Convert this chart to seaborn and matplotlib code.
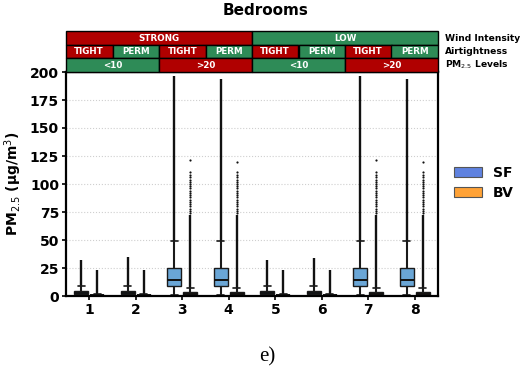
import matplotlib
matplotlib.use("Agg")
import matplotlib.pyplot as plt
from matplotlib.patches import Rectangle, Patch
import matplotlib.transforms as mtransforms
import numpy as np
import pandas as pd
import seaborn as sns

# ---- data -------------------------------------------------------------
scenarios = ["1", "2", "3", "4", "5", "6", "7", "8"]
sensors = ["SF", "BV"]

# five-number summaries per scenario: lower whisker, Q1, median, Q3, upper whisker
sf_whislo = [0.3, 0.3, 0.5, 0.5, 0.3, 0.3, 0.5, 0.5]
sf_q1 = [1.8, 1.8, 8.8, 8.8, 1.8, 1.8, 8.8, 8.8]
sf_med = [3.0, 3.0, 14.3, 14.3, 3.0, 3.0, 14.3, 14.3]
sf_q3 = [4.6, 4.6, 25.3, 25.3, 4.6, 4.6, 25.3, 25.3]
sf_whishi = [8.5, 8.5, 49.0, 49.0, 8.5, 8.5, 49.0, 49.0]

bv_whislo = [0.0, 0.0, 0.0, 0.0, 0.0, 0.0, 0.0, 0.0]
bv_q1 = [0.2, 0.2, 0.5, 0.5, 0.2, 0.2, 0.5, 0.5]
bv_med = [0.5, 0.5, 1.5, 1.5, 0.5, 0.5, 1.5, 1.5]
bv_q3 = [1.0, 1.0, 3.8, 3.8, 1.0, 1.0, 3.8, 3.8]
bv_whishi = [2.0, 2.0, 7.0, 7.0, 2.0, 2.0, 7.0, 7.0]

# outliers: densely packed run above the upper whisker, up to this value
sf_dense_top = [32, 35, 196, 194, 32, 34, 196, 194]
bv_dense_top = [23, 23, 72, 72, 23, 23, 72, 72]
# sparser individual outliers above the dense run (BV, high-PM scenarios)
bv_sparse = [
    [], [],
    [74, 76, 78, 80, 82, 84, 86, 88, 90, 92, 94, 96, 98, 100, 102, 104, 106, 108, 111, 121],
    [74, 76, 78, 80, 82, 84, 86, 88, 90, 92, 94, 96, 98, 100, 102, 104, 106, 108, 111, 120],
    [], [],
    [74, 76, 78, 80, 82, 84, 86, 88, 90, 92, 94, 96, 98, 100, 102, 104, 106, 108, 111, 121],
    [74, 76, 78, 80, 82, 84, 86, 88, 90, 92, 94, 96, 98, 100, 102, 104, 106, 108, 111, 120],
]

wind_levels = ["STRONG", "LOW"]
airtightness = ["TIGHT", "PERM", "TIGHT", "PERM", "TIGHT", "PERM", "TIGHT", "PERM"]
pm_levels = ["<10", ">20", "<10", ">20"]
row_titles = ["Wind Intensity", "Airtightness", "PM$_{2.5}$ Levels"]

yticks = [0, 25, 50, 75, 100, 125, 150, 175, 200]

# ---- long-form table built from the summaries --------------------------
rows = []
for i, sc in enumerate(scenarios):
    for v in (sf_whislo[i], sf_q1[i], sf_med[i], sf_q3[i], sf_whishi[i]):
        rows.append((sc, "SF", v))
    for v in (bv_whislo[i], bv_q1[i], bv_med[i], bv_q3[i], bv_whishi[i]):
        rows.append((sc, "BV", v))
df = pd.DataFrame(rows, columns=["scenario", "sensor", "value"])

# ---- styling ----------------------------------------------------------
sns.set_style("white")
plt.rcParams["font.family"] = ["DejaVu Sans"]
plt.rcParams.update({"text.color": "black", "axes.labelcolor": "black",
                     "xtick.color": "black", "ytick.color": "black"})

RED = "#b00000"
GREEN = "#2e8b57"
SF_BOX = "#6aa6d6"
BV_BOX = "#c8782e"
SF_LEG = "#5f82e0"
BV_LEG = "#ffa236"

fig = plt.figure(figsize=(5.24, 3.73), dpi=100)
ax = fig.add_axes([66 / 524, 77 / 373, 372 / 524, 224 / 373])

sns.boxplot(
    data=df, x="scenario", y="value", hue="sensor", order=scenarios,
    hue_order=sensors, palette={"SF": SF_BOX, "BV": BV_BOX}, saturation=1,
    whis=(0, 100), width=0.7, gap=0.14, linewidth=1.0, linecolor="#1a1a1a",
    showfliers=False, legend=False, ax=ax,
    medianprops={"color": "#111111", "linewidth": 1.4},
    whiskerprops={"linewidth": 1.5},
    capprops={"linewidth": 1.2},
)

# outliers drawn as dense vertical runs plus individual points
off = 0.175
for i in range(len(scenarios)):
    ax.vlines(i - off, sf_whishi[i], sf_dense_top[i], color="#111111", lw=1.7, zorder=1)
    ax.vlines(i + off, bv_whishi[i], bv_dense_top[i], color="#111111", lw=1.7, zorder=1)
    if bv_sparse[i]:
        ax.scatter([i + off] * len(bv_sparse[i]), bv_sparse[i], s=2.5,
                   color="#111111", linewidths=0, zorder=1)

ax.set_xlim(-0.5, 7.5)
ax.set_ylim(0, 200)
ax.set_yticks(yticks)
ax.yaxis.grid(True, ls=":", color="#cfcfcf", lw=0.8)
ax.set_axisbelow(True)
ax.set_xlabel("")
ax.set_ylabel("PM$_{2.5}$ (µg/m$^3$)", fontsize=10, fontweight="bold", labelpad=4)
ax.tick_params(axis="both", which="both", length=3, width=1.2, color="black",
               labelcolor="black", labelsize=10, pad=2, direction="out",
               bottom=True, left=True)
for lab in ax.get_xticklabels() + ax.get_yticklabels():
    lab.set_fontweight("bold")
for sp in ax.spines.values():
    sp.set_visible(True)
    sp.set_color("black")
    sp.set_linewidth(1.6)

# ---- header table above the axes ---------------------------------------
trans = mtransforms.blended_transform_factory(ax.transData, ax.transAxes)
h = 0.0605


def cell(x0, x1, row, color, text):
    y0 = 1 + row * h
    ax.add_patch(Rectangle((x0, y0), x1 - x0, h, transform=trans, facecolor=color,
                           edgecolor="black", lw=1.0, clip_on=False, zorder=5))
    ax.text((x0 + x1) / 2, y0 + h / 2, text, transform=trans, ha="center",
            va="center", color="white", fontsize=6.3, fontweight="bold",
            clip_on=False, zorder=6)


for k, lvl in enumerate(wind_levels):
    cell(-0.5 + 4 * k, 3.5 + 4 * k, 2, RED if lvl == "STRONG" else GREEN, lvl)
for k, lvl in enumerate(airtightness):
    cell(-0.5 + k, 0.5 + k, 1, RED if lvl == "TIGHT" else GREEN, lvl)
for k, lvl in enumerate(pm_levels):
    cell(-0.5 + 2 * k, 1.5 + 2 * k, 0, GREEN if lvl == "<10" else RED, lvl)

for r, title in enumerate(row_titles):
    ax.text(1.019, 1 + (2 - r) * h + h / 2, title, transform=ax.transAxes,
            ha="left", va="center", fontsize=6.6, fontweight="bold",
            color="black", clip_on=False)

fig.text(0.507, 0.972, "Bedrooms", ha="center", va="center",
         fontsize=11, fontweight="bold", color="black")
fig.text(0.51, 0.043, "e)", ha="center", va="center", fontsize=15,
         family=["Liberation Serif"], color="black")

handles = [Patch(facecolor=SF_LEG, edgecolor="#555555", lw=0.8),
           Patch(facecolor=BV_LEG, edgecolor="#555555", lw=0.8)]
fig.legend(handles, sensors, loc="center left", bbox_to_anchor=(454 / 524, 190 / 373),
           frameon=False, prop={"weight": "bold", "size": 10}, handlelength=2.0,
           handleheight=0.75, handletextpad=0.8, labelspacing=0.45,
           borderpad=0, borderaxespad=0)

fig.savefig("out.png", dpi=100)
